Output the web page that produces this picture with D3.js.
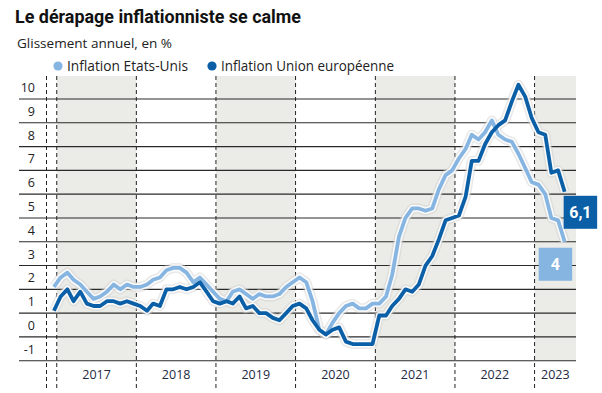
<!DOCTYPE html>
<html>
<head>
<meta charset="utf-8">
<script src="https://cdn.jsdelivr.net/npm/d3@7"></script>
<style>
  body { margin: 0; background: #fff; }
  svg { display: block; font-family: "Open Sans", "Noto Sans", sans-serif; }
</style>
</head>
<body>
<div id="chart"></div>
<script>
// monthly data, Dec 2016 -> May 2023 (annual change, %)
const startMonth = [2016, 11];
const usValues = [
  2.1,
  2.5, 2.7, 2.4, 2.2, 1.9, 1.6, 1.7, 1.9, 2.2, 2.0, 2.2, 2.1,
  2.1, 2.2, 2.4, 2.5, 2.8, 2.9, 2.9, 2.7, 2.3, 2.5, 2.2, 1.9,
  1.6, 1.5, 1.9, 2.0, 1.8, 1.6, 1.8, 1.7, 1.7, 1.8, 2.1, 2.3,
  2.5, 2.3, 1.5, 0.3, 0.1, 0.6, 1.0, 1.3, 1.4, 1.2, 1.2, 1.4,
  1.4, 1.7, 2.6, 4.2, 5.0, 5.4, 5.4, 5.3, 5.4, 6.2, 6.8, 7.0,
  7.5, 7.9, 8.5, 8.3, 8.6, 9.1, 8.5, 8.3, 8.2, 7.7, 7.1, 6.5,
  6.4, 6.0, 5.0, 4.9, 4.0
];
const euValues = [
  1.1,
  1.7, 2.0, 1.5, 1.9, 1.4, 1.3, 1.3, 1.5, 1.5, 1.4, 1.5, 1.4,
  1.3, 1.1, 1.4, 1.3, 2.0, 2.0, 2.1, 2.0, 2.1, 2.3, 1.9, 1.5,
  1.4, 1.5, 1.4, 1.7, 1.2, 1.3, 1.0, 1.0, 0.8, 0.7, 1.0, 1.3,
  1.4, 1.2, 0.7, 0.3, 0.1, 0.3, 0.4, -0.2, -0.3, -0.3, -0.3, -0.3,
  0.9, 0.9, 1.3, 1.6, 2.0, 1.9, 2.2, 3.0, 3.4, 4.1, 4.9, 5.0,
  5.1, 5.9, 7.4, 7.4, 8.1, 8.6, 8.9, 9.1, 9.9, 10.6, 10.1, 9.2,
  8.6, 8.5, 6.9, 7.0, 6.1
];
const years = [2017, 2018, 2019, 2020, 2021, 2022, 2023];
const shadedYears = [2017, 2019, 2021, 2023];
const yTicks = [-1, 0, 1, 2, 3, 4, 5, 6, 7, 8, 9, 10];
const seriesNames = ["Inflation Etats-Unis", "Inflation Union européenne"];
const endLabels = ["4", "6,1"];

const W = 602, H = 393;
const lightBlue = "#86b5e2", darkBlue = "#0b5fa7";

const svg = d3.select("#chart").append("svg")
  .attr("width", W).attr("height", H);

// scales
const x = d3.scaleTime()
  .domain([new Date(2016, 10, 15), new Date(2023, 6, 10)])
  .range([46.5, 576]);
const y = d3.scaleLinear().domain([-1, 10]).range([360.7, 99]);

const dates = usValues.map((_, i) => new Date(startMonth[0], startMonth[1] + i, 19));
const plotTop = 76, plotBottom = y(-1), gridLeft = 19, plotRight = x.range()[1];

// title block
svg.append("text")
  .attr("x", 15).attr("y", 23)
  .attr("textLength", 286).attr("lengthAdjust", "spacingAndGlyphs")
  .style("font-family", "Roboto, sans-serif")
  .style("font-weight", "700").style("font-size", "18.5px").style("fill", "#111")
  .text("Le dérapage inflationniste se calme");
svg.append("text")
  .attr("x", 17).attr("y", 48)
  .attr("textLength", 155).attr("lengthAdjust", "spacingAndGlyphs")
  .style("font-size", "13.5px").style("fill", "#222")
  .text("Glissement annuel, en %");

// legend
const legendX = [58, 212];
const legendLen = [121, 173];
[lightBlue, darkBlue].forEach((c, i) => {
  svg.append("circle").attr("cx", legendX[i]).attr("cy", 66).attr("r", 4.6).attr("fill", c);
  svg.append("text").attr("x", legendX[i] + 9).attr("y", 71)
    .attr("textLength", legendLen[i]).attr("lengthAdjust", "spacingAndGlyphs")
    .style("font-size", "14px").style("fill", "#222")
    .text(seriesNames[i]);
});

// shaded years
svg.selectAll(".band").data(shadedYears).join("rect")
  .attr("x", d => x(new Date(d, 0, 1)))
  .attr("y", plotTop)
  .attr("width", d => Math.min(x(new Date(d + 1, 0, 1)), plotRight) - x(new Date(d, 0, 1)))
  .attr("height", plotBottom - plotTop)
  .attr("fill", "#ebebe7");

// horizontal grid
svg.selectAll(".grid").data(yTicks).join("line")
  .attr("x1", gridLeft).attr("x2", plotRight)
  .attr("y1", d => y(d)).attr("y2", d => y(d))
  .attr("stroke", "#2a2a2a").attr("stroke-width", 1.1);

svg.selectAll(".ylab").data(yTicks).join("text")
  .attr("x", 35).attr("y", d => y(d) - 7)
  .attr("text-anchor", "end")
  .style("font-size", "12.5px").style("fill", "#222")
  .text(d => d);

// vertical dashed year separators
const separators = [new Date(2016, 10, 15)].concat(years.map(d => new Date(d, 0, 1)));
svg.selectAll(".sep").data(separators).join("line")
  .attr("x1", d => x(d)).attr("x2", d => x(d))
  .attr("y1", plotTop).attr("y2", 388)
  .attr("stroke", "#222").attr("stroke-width", 1)
  .attr("stroke-dasharray", "4,3");

svg.selectAll(".xlab").data(years).join("text")
  .attr("x", d => (x(new Date(d, 0, 1)) + Math.min(x(new Date(d + 1, 0, 1)), plotRight)) / 2)
  .attr("y", 379)
  .attr("text-anchor", "middle")
  .style("font-size", "12.5px").style("fill", "#1d2a3f")
  .text(d => d);

// lines with halo
const line = d3.line().x((d, i) => x(dates[i])).y(d => y(d));
const series = [usValues, euValues];
const colors = [lightBlue, darkBlue];

series.forEach(s => {
  svg.append("path").attr("d", line(s)).attr("fill", "none")
    .attr("stroke", "#cfcfcf").attr("stroke-opacity", 0.45).attr("stroke-width", 10)
    .attr("stroke-linejoin", "round");
});
series.forEach(s => {
  svg.append("path").attr("d", line(s)).attr("fill", "none")
    .attr("stroke", "#fff").attr("stroke-opacity", 0.85).attr("stroke-width", 7)
    .attr("stroke-linejoin", "round");
});
series.forEach((s, i) => {
  svg.append("path").attr("d", line(s)).attr("fill", "none")
    .attr("stroke", colors[i]).attr("stroke-width", 3.8)
    .attr("stroke-linejoin", "round");
});

// end labels
const last = dates.length - 1;
const boxes = [
  { dx: -26, dy: 6, c: lightBlue, v: usValues[last] },
  { dx: -1, dy: 4, c: darkBlue, v: euValues[last] }
];
boxes.forEach((b, i) => {
  const bx = x(dates[last]) + b.dx, by = y(b.v) + b.dy;
  svg.append("rect").attr("x", bx).attr("y", by).attr("width", 33.5).attr("height", 33)
    .attr("fill", b.c);
  svg.append("text").attr("x", bx + 16.75).attr("y", by + 22)
    .attr("text-anchor", "middle")
    .style("font-family", "Roboto, sans-serif")
    .style("font-weight", "700").style("font-size", "16px").style("fill", "#fff")
    .text(endLabels[i]);
});
</script>
</body>
</html>
